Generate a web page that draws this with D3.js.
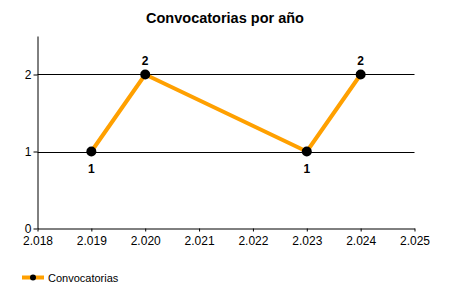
<!DOCTYPE html>
<html><head><meta charset="utf-8">
<script src="https://cdn.jsdelivr.net/npm/d3@7"></script>
<style>body{margin:0;background:#fff}svg{display:block}text{font-family:"Liberation Sans",Arial,sans-serif}</style>
</head><body>
<svg id="c" width="450" height="300"></svg>
<script>
const title = "Convocatorias por año";
const seriesName = "Convocatorias";
const years = [2019, 2020, 2023, 2024];
const values = [1, 2, 1, 2];
const xTicks = [2018, 2019, 2020, 2021, 2022, 2023, 2024, 2025];
const yTicks = [0, 1, 2];

const svg = d3.select("#c");
const m = {l: 37.5, r: 414.5, t: 36, b: 228.5};
const x = d3.scaleLinear().domain([2018, 2025]).range([m.l, m.r]);
const y = d3.scaleLinear().domain([0, 2.5]).range([m.b, m.t]);
const fmt = d => { const s = String(d); return s.slice(0,1) + "." + s.slice(1); };

svg.append("text").attr("x", 225).attr("y", 23).attr("text-anchor", "middle")
  .attr("font-size", 14.5).attr("font-weight", "bold").text(title);

// gridlines
svg.append("g").selectAll("line").data(yTicks.filter(d => d > 0)).join("line")
  .attr("x1", m.l).attr("x2", m.r).attr("y1", d => Math.round(y(d)) + 0.5).attr("y2", d => Math.round(y(d)) + 0.5)
  .attr("stroke", "#000");

const xa = svg.append("g").attr("transform", `translate(0,${m.b})`)
  .call(d3.axisBottom(x).tickValues(xTicks).tickFormat(fmt).tickSize(3).tickSizeOuter(0));
xa.select(".domain").attr("stroke", "#000");
xa.selectAll("text").attr("font-size", 12).attr("fill", "#000").attr("y", 8).attr("dy", "0.71em");

const ya = svg.append("g").attr("transform", `translate(${m.l},0)`)
  .call(d3.axisLeft(y).tickValues(yTicks).tickFormat(d3.format("d")).tickSize(4).tickSizeOuter(0));
ya.select(".domain").attr("stroke", "#000");
ya.selectAll("text").attr("font-size", 12).attr("fill", "#000").attr("x", -6);

const data = years.map((yr, i) => ({yr, v: values[i]}));
svg.append("path").datum(data)
  .attr("d", d3.line().x(d => x(d.yr)).y(d => y(d.v)))
  .attr("fill", "none").attr("stroke", "#FFA000").attr("stroke-width", 4).attr("stroke-linejoin", "round");

svg.append("g").selectAll("circle").data(data).join("circle")
  .attr("cx", d => x(d.yr)).attr("cy", d => y(d.v)).attr("r", 5).attr("fill", "#000");

svg.append("g").selectAll("text").data(data).join("text")
  .attr("x", d => x(d.yr)).attr("y", (d, i) => i % 2 ? y(d.v) - 10 : y(d.v) + 21)
  .attr("text-anchor", "middle").attr("font-size", 12).attr("font-weight", "bold").text(d => d.v);

// legend
const lg = svg.append("g");
lg.append("line").attr("x1", 22).attr("x2", 44).attr("y1", 277.5).attr("y2", 277.5)
  .attr("stroke", "#FFA000").attr("stroke-width", 4);
lg.append("circle").attr("cx", 33).attr("cy", 277.5).attr("r", 3).attr("fill", "#000");
lg.append("text").attr("x", 48).attr("y", 281.5).attr("font-size", 11).text(seriesName);
</script>
</body></html>
